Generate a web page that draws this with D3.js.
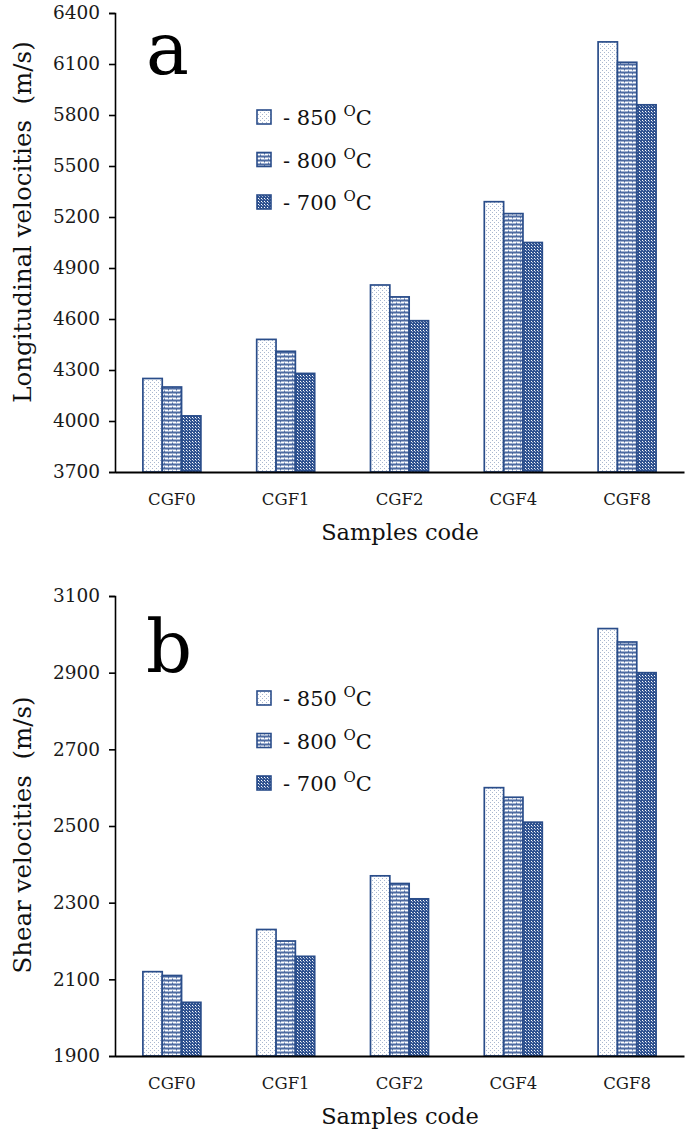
<!DOCTYPE html>
<html><head><meta charset="utf-8">
<script src="https://cdn.jsdelivr.net/npm/d3@7"></script>
<style>
html,body{margin:0;padding:0;background:#fff;}
svg{display:block;font-family:"DejaVu Serif",serif;}
text{white-space:pre;}
</style></head>
<body><svg id="c" width="685" height="1132"></svg>
<script>
const categories = ["CGF0","CGF1","CGF2","CGF4","CGF8"];
const seriesNames = ["850","800","700"];
const longit850 = [4250,4480,4800,5290,6230];
const longit800 = [4200,4410,4730,5220,6110];
const longit700 = [4030,4280,4590,5050,5860];
const shear850 = [2120,2230,2370,2600,3015];
const shear800 = [2110,2200,2350,2575,2980];
const shear700 = [2040,2160,2310,2510,2900];
const longitTicks = [3700,4000,4300,4600,4900,5200,5500,5800,6100,6400];
const shearTicks = [1900,2100,2300,2500,2700,2900,3100];

const svg = d3.select("#c");
const defs = svg.append("defs");
const edge = "#2a4d8a";
// 850: sparse dots
const p1 = defs.append("pattern").attr("id","p850").attr("patternUnits","userSpaceOnUse").attr("width",4).attr("height",4);
p1.append("rect").attr("width",4).attr("height",4).attr("fill","#ffffff");
p1.append("rect").attr("x",0).attr("y",0).attr("width",1).attr("height",1).attr("fill","#a9b7cf");
p1.append("rect").attr("x",2).attr("y",2).attr("width",1).attr("height",1).attr("fill","#a9b7cf");
// 800: horizontal brick
const p2 = defs.append("pattern").attr("id","p800").attr("patternUnits","userSpaceOnUse").attr("width",8).attr("height",4);
p2.append("rect").attr("width",8).attr("height",4).attr("fill","#9fb0cf");
p2.append("rect").attr("x",0).attr("y",0).attr("width",8).attr("height",1).attr("fill","#4d6aa0");
p2.append("rect").attr("x",0).attr("y",1).attr("width",1).attr("height",1).attr("fill","#4d6aa0");
p2.append("rect").attr("x",4).attr("y",3).attr("width",1).attr("height",1).attr("fill","#4d6aa0");
p2.append("rect").attr("x",1).attr("y",2).attr("width",3).attr("height",1).attr("fill","#ffffff");
p2.append("rect").attr("x",5).attr("y",2).attr("width",3).attr("height",1).attr("fill","#ffffff");
// 700: checker
const p3 = defs.append("pattern").attr("id","p700").attr("patternUnits","userSpaceOnUse").attr("width",3).attr("height",3);
p3.append("rect").attr("width",3).attr("height",3).attr("fill","#2f5290");
p3.append("rect").attr("x",0).attr("y",0).attr("width",1).attr("height",1).attr("fill","#ffffff");
p3.append("rect").attr("x",1).attr("y",1).attr("width",1).attr("height",1).attr("fill","#a8b7d3");
const fills = ["url(#p850)","url(#p800)","url(#p700)"];

function panel(cfg){
  const g = svg.append("g");
  const x = d3.scaleBand().domain(categories).range([115,684]).paddingInner(0).paddingOuter(0);
  const x1 = d3.scaleBand().domain(seriesNames).range([x.bandwidth()/2-29, x.bandwidth()/2+29]).padding(0);
  const y = d3.scaleLinear().domain(cfg.domain).range([cfg.bottom, cfg.top]);
  const series = cfg.series;
  seriesNames.forEach((s,si)=>{
    g.selectAll(null).data(categories).enter().append("rect")
      .attr("x", c=>x(c)+x1(s))
      .attr("y", (c,i)=>y(series[si][i]))
      .attr("width", x1.bandwidth())
      .attr("height", (c,i)=>y(cfg.domain[0])-y(series[si][i]))
      .attr("fill", fills[si]).attr("stroke", edge).attr("stroke-width",1.7);
  });
  // y axis
  const ya = g.append("g").attr("transform","translate(115,0)")
    .call(d3.axisLeft(y).tickValues(cfg.ticks).tickSize(6).tickPadding(9).tickFormat(d3.format("d")));
  ya.attr("font-size",null).attr("font-family",null);
  ya.select(".domain").attr("stroke","#000").attr("stroke-width",1.6);
  ya.selectAll(".tick line").attr("stroke","#000").attr("stroke-width",1.6);
  ya.selectAll(".tick text").style("font-family","DejaVu Serif").style("font-size","18.5px").attr("fill","#1a1a1a");
  // x axis
  const xa = g.append("g").attr("transform",`translate(0,${cfg.bottom})`)
    .call(d3.axisBottom(x).tickSize(0).tickPadding(21));
  xa.attr("font-size",null).attr("font-family",null);
  xa.select(".domain").attr("stroke","#000").attr("stroke-width",1.8);
  xa.selectAll(".tick text").style("font-family","DejaVu Serif").style("font-size","16.5px").attr("fill","#1a1a1a");
  // titles
  g.append("text").attr("x",400).attr("y",cfg.bottom+68).attr("text-anchor","middle")
    .style("font-size","22.5px").attr("fill","#111").text("Samples code");
  g.append("text").attr("transform",`translate(31,${cfg.ytitleY}) rotate(-90)`).attr("text-anchor","middle")
    .style("font-size","24.5px").attr("fill","#111").text(cfg.ytitle);
  // panel letter
  g.append("text").attr("x",146).attr("y",cfg.letterY).style("font-size","72px").attr("fill","#000").text(cfg.letter);
  // legend
  seriesNames.forEach((s,i)=>{
    const ly = cfg.legendY + i*42.5;
    g.append("rect").attr("x",257).attr("y",ly-7).attr("width",14).attr("height",14)
      .attr("fill",fills[i]).attr("stroke",edge).attr("stroke-width",1.6);
    const t = g.append("text").attr("x",283).attr("y",ly+8).style("font-size","21px").attr("fill","#111");
    t.append("tspan").text("- "+s+" ");
    t.append("tspan").style("font-size","15px").attr("dy",-9).text("O");
    t.append("tspan").attr("dy",9).text("C");
  });
}

panel({domain:[3700,6400], top:13, bottom:472, series:[longit850,longit800,longit700], ticks:longitTicks,
  ytitle:"Longitudinal velocities  (m/s)", ytitleY:222, letter:"a", letterY:74, legendY:117});
panel({domain:[1900,3100], top:596, bottom:1056, series:[shear850,shear800,shear700], ticks:shearTicks,
  ytitle:"Shear velocities  (m/s)", ytitleY:835, letter:"b", letterY:672, legendY:698});
</script></body></html>
